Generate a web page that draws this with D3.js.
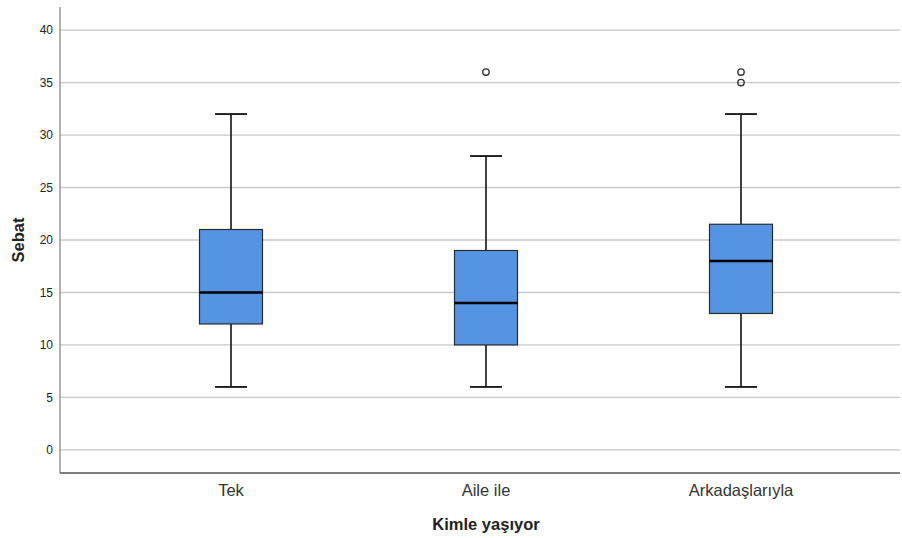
<!DOCTYPE html>
<html>
<head>
<meta charset="utf-8">
<script src="https://cdn.jsdelivr.net/npm/d3@7"></script>
<style>
  body { margin: 0; background: #fff; }
  svg { display: block; font-family: Arial, "Liberation Sans", sans-serif; }
</style>
</head>
<body>
<svg id="chart" width="902" height="538"></svg>
<script>
// Groups and five-number summaries of "Sebat" scores
const categories = ["Tek", "Aile ile", "Arkadaşlarıyla"];
const whiskerLow = [6, 6, 6];
const q1 = [12, 10, 13];
const median = [15, 14, 18];
const q3 = [21, 19, 21.5];
const whiskerHigh = [32, 28, 32];
const outliers = [[], [36], [35, 36]];
const yTicks = [0, 5, 10, 15, 20, 25, 30, 35, 40];

const svg = d3.select("#chart");
const plotLeft = 60, plotRight = 900, plotTop = 7, plotBottom = 473;

const x = d3.scaleBand().domain(categories).range([103.5, 868.5]);
const y = d3.scaleLinear().domain([-2.2, 42.2]).range([plotBottom, plotTop]);

// Horizontal grid lines
svg.append("g").selectAll("line").data(yTicks).join("line")
  .attr("x1", plotLeft).attr("x2", plotRight)
  .attr("y1", d => y(d)).attr("y2", d => y(d))
  .attr("stroke", "#c8c8c8").attr("stroke-width", 1.3);

// Axes
const yAxis = d3.axisLeft(y).tickValues(yTicks).tickSize(0).tickPadding(7);
const gy = svg.append("g").attr("transform", `translate(${plotLeft},0)`).call(yAxis);
gy.select(".domain").remove();
gy.selectAll("text").attr("font-size", 12).attr("fill", "#222");

svg.append("line").attr("x1", plotLeft).attr("x2", plotLeft).attr("y1", plotTop).attr("y2", plotBottom)
  .attr("stroke", "#888").attr("stroke-width", 1.3);
svg.append("line").attr("x1", plotLeft).attr("x2", plotRight).attr("y1", plotBottom).attr("y2", plotBottom)
  .attr("stroke", "#555").attr("stroke-width", 1.3);

const xAxis = d3.axisBottom(x).tickSize(0).tickPadding(11);
const gx = svg.append("g").attr("transform", `translate(0,${plotBottom})`).call(xAxis);
gx.select(".domain").remove();
gx.selectAll("text").attr("font-size", 16.5).attr("fill", "#333");

// Box plots
const boxW = 63, capW = 32;
const data = categories.map((c, i) => ({ c, lo: whiskerLow[i], q1: q1[i], med: median[i], q3: q3[i], hi: whiskerHigh[i], out: outliers[i] }));
const g = svg.append("g").selectAll("g").data(data).join("g")
  .attr("transform", d => `translate(${x(d.c) + x.bandwidth() / 2},0)`);

// whisker stems
g.append("line").attr("x1", 0).attr("x2", 0).attr("y1", d => y(d.hi)).attr("y2", d => y(d.q3))
  .attr("stroke", "#111").attr("stroke-width", 1.6);
g.append("line").attr("x1", 0).attr("x2", 0).attr("y1", d => y(d.q1)).attr("y2", d => y(d.lo))
  .attr("stroke", "#111").attr("stroke-width", 1.6);
// caps
g.append("line").attr("x1", -capW / 2).attr("x2", capW / 2).attr("y1", d => y(d.hi)).attr("y2", d => y(d.hi))
  .attr("stroke", "#111").attr("stroke-width", 1.8);
g.append("line").attr("x1", -capW / 2).attr("x2", capW / 2).attr("y1", d => y(d.lo)).attr("y2", d => y(d.lo))
  .attr("stroke", "#111").attr("stroke-width", 1.8);
// box
g.append("rect").attr("x", -boxW / 2).attr("width", boxW)
  .attr("y", d => y(d.q3)).attr("height", d => y(d.q1) - y(d.q3))
  .attr("fill", "#5594e3").attr("stroke", "#2a2a2a").attr("stroke-width", 1.2);
// median
g.append("line").attr("x1", -boxW / 2).attr("x2", boxW / 2).attr("y1", d => y(d.med)).attr("y2", d => y(d.med))
  .attr("stroke", "#000").attr("stroke-width", 2.6);
// outliers
g.selectAll("circle").data(d => d.out).join("circle")
  .attr("cx", 0).attr("cy", v => y(v)).attr("r", 3.2)
  .attr("fill", "none").attr("stroke", "#333").attr("stroke-width", 1.4);

// Axis titles
svg.append("text").attr("x", x("Aile ile") + x.bandwidth() / 2).attr("y", 530)
  .attr("text-anchor", "middle").attr("font-size", 16.5).attr("font-weight", "bold").attr("fill", "#222")
  .text("Kimle yaşıyor");
svg.append("text").attr("transform", `translate(24,${y(20)}) rotate(-90)`)
  .attr("text-anchor", "middle").attr("font-size", 16.5).attr("font-weight", "bold").attr("fill", "#222")
  .text("Sebat");
</script>
</body>
</html>
